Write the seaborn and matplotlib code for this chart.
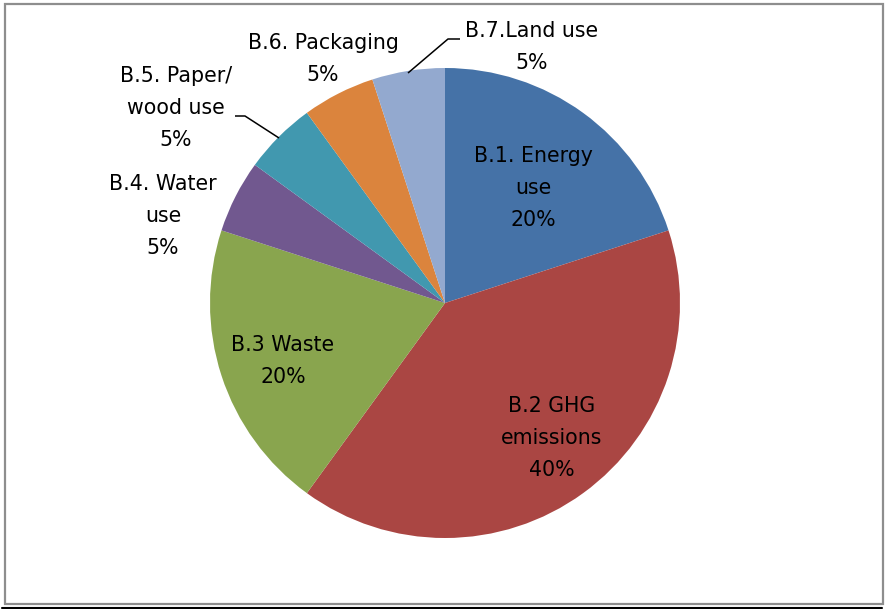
import matplotlib
matplotlib.use("Agg")
import matplotlib.pyplot as plt
import seaborn as sns
from matplotlib.patches import Rectangle
from matplotlib.lines import Line2D

# ---- data ----
categories = ["B.1. Energy use", "B.2 GHG emissions", "B.3 Waste", "B.4. Water use",
              "B.5. Paper/ wood use", "B.6. Packaging", "B.7.Land use"]
label_lines = ["B.1. Energy\nuse", "B.2 GHG\nemissions", "B.3 Waste", "B.4. Water\nuse",
               "B.5. Paper/\nwood use", "B.6. Packaging", "B.7.Land use"]
values = [20, 40, 20, 5, 5, 5, 5]
colors_hex = ["#4572A7", "#AA4643", "#89A54E", "#71588F", "#4198AF", "#DB843D", "#93A9CF"]

# ---- layout (pixels in the 885x609 image) ----
W, H = 885, 609
CX, CY, R = 445, 303, 235
label_pos = [(533, 188), (552, 438), (283, 361), (163, 216), (176, 108), (323, 59), (532, 47)]
leaders = {4: [(235, 116), (245, 116), (279, 138)],
           6: [(460, 39), (448, 39), (408, 73)]}

sns.set_theme(style="white")
plt.rcParams["font.family"] = ["DejaVu Sans"]

palette = sns.color_palette(colors_hex)

fig = plt.figure(figsize=(W / 100, H / 100), dpi=100)
ax = fig.add_axes([0, 0, 1, 1])

ax.pie(values, colors=palette, startangle=90, counterclock=False, radius=1,
       center=(0, 0), wedgeprops=dict(linewidth=0))


def to_data(px, py):
    return (px - CX) / R, (CY - py) / R


ax.set_xlim(-CX / R, (W - CX) / R)
ax.set_ylim(-(H - CY) / R, CY / R)
ax.set_aspect("auto")
ax.axis("off")

total = sum(values)
for i, (lab, v) in enumerate(zip(label_lines, values)):
    x, y = to_data(*label_pos[i])
    ax.text(x, y, f"{lab}\n{round(100 * v / total)}%", ha="center", va="center",
            multialignment="center", fontsize=14.8, color="black", linespacing=1.76)

for pts in leaders.values():
    xs, ys = zip(*[to_data(px, py) for px, py in pts])
    ax.plot(xs, ys, color="black", lw=1.1, solid_capstyle="butt")

# outer border
fig.add_artist(Rectangle((5 / W, (H - 604) / H), 878 / W, 600 / H,
                         transform=fig.transFigure, fill=False,
                         edgecolor="#8e8e8e", linewidth=1.6))
fig.add_artist(Line2D([2 / W, 882 / W], [1 / H, 1 / H], transform=fig.transFigure,
                      color="black", linewidth=1.5))

fig.savefig("out.png", dpi=100, facecolor="white")
